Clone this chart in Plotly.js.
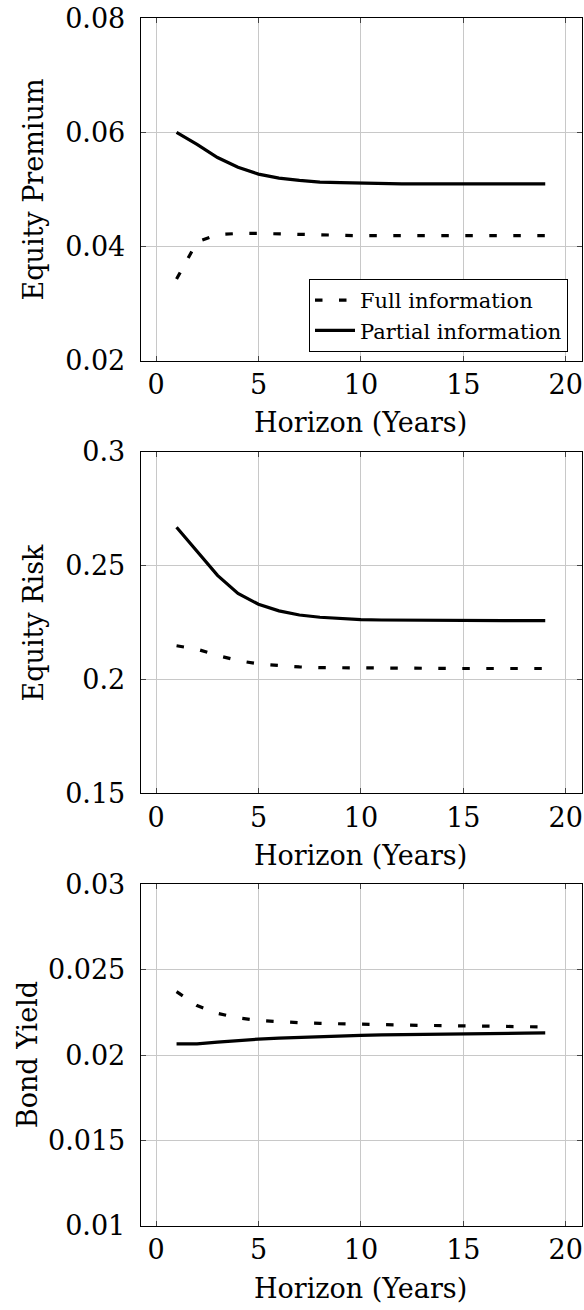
<!DOCTYPE html>
<html>
<head>
<meta charset="utf-8">
<script src="https://cdn.plot.ly/plotly-3.0.1.min.js"></script>
<style>html,body{margin:0;padding:0;background:#fff;}#chart{width:584px;height:1310px;}</style>
</head>
<body>
<div id="chart"></div>
<script>
const horizon = [1,2,3,4,5,6,7,8,9,10,11,12,13,14,15,16,17,18,19];

const premiumFull    = [0.0343,0.0408,0.0421,0.0423,0.0423,0.0422,0.0421,0.0420,0.0420,0.0419,0.0419,0.0419,0.0419,0.0419,0.0419,0.0419,0.0419,0.0419,0.0419];
const premiumPartial = [0.0600,0.0579,0.0556,0.0539,0.0527,0.0520,0.0516,0.0513,0.0512,0.0511,0.0511,0.0510,0.0510,0.0510,0.0510,0.0510,0.0510,0.0510,0.0510];

const riskFull    = [0.2148,0.2133,0.2105,0.2083,0.2068,0.2060,0.2055,0.2052,0.2051,0.2050,0.2049,0.2049,0.2048,0.2048,0.2048,0.2048,0.2048,0.2048,0.2048];
const riskPartial = [0.2668,0.2563,0.2457,0.2378,0.2330,0.2301,0.2283,0.2273,0.2267,0.2263,0.2261,0.2260,0.2259,0.2259,0.2258,0.2258,0.2258,0.2258,0.2258];

const yieldFull    = [0.02372,0.02290,0.02245,0.02218,0.02203,0.02195,0.02190,0.02186,0.02183,0.02180,0.02178,0.02176,0.02174,0.02173,0.02172,0.02170,0.02168,0.02166,0.02165];
const yieldPartial = [0.02066,0.02066,0.02076,0.02086,0.02094,0.02100,0.02105,0.02109,0.02113,0.02116,0.02119,0.02121,0.02123,0.02125,0.02126,0.02127,0.02128,0.02129,0.02130];

const xTickVals = [0,5,10,15,20];
const xTickText = ["0","5","10","15","20"];
const premiumTickVals = [0.02,0.04,0.06,0.08];
const premiumTickText = ["0.02","0.04","0.06","0.08"];
const riskTickVals = [0.15,0.2,0.25,0.3];
const riskTickText = ["0.15","0.2","0.25","0.3"];
const yieldTickVals = [0.01,0.015,0.02,0.025,0.03];
const yieldTickText = ["0.01","0.015","0.02","0.025","0.03"];

const seriesNames = ["Full information","Partial information"];
const yTitles = ["Equity Premium","Equity Risk","Bond Yield"];
const xTitle = "Horizon (Years)";

const FONT = "DejaVu Serif, Liberation Serif, Noto Serif, Tinos, Times, serif";
const FS = 27;
const W = 584, H = 1310;

const dashStyle = "7.5px,16.5px";
const lw = 3.2;

function mk(x, y, name, axisIdx, dashed, showlegend) {
  const sfx = axisIdx === 1 ? "" : String(axisIdx);
  return {
    x: x, y: y, name: name, type: "scatter", mode: "lines",
    xaxis: "x" + sfx, yaxis: "y" + sfx,
    line: {color: "#000", width: lw, dash: dashed ? dashStyle : "solid"},
    showlegend: showlegend, hoverinfo: "skip"
  };
}

const traces = [
  mk(horizon, premiumFull, seriesNames[0], 1, true, true),
  mk(horizon, premiumPartial, seriesNames[1], 1, false, true),
  mk(horizon, riskFull, seriesNames[0], 2, true, false),
  mk(horizon, riskPartial, seriesNames[1], 2, false, false),
  mk(horizon, yieldFull, seriesNames[0], 3, true, false),
  mk(horizon, yieldPartial, seriesNames[1], 3, false, false)
];

// pixel geometry
const xL = 140.7, xR = 581.7;
const panels = [[18.3, 360.7],[451.7, 793.3],[884.3, 1226]];
const px = v => v / W;
const py = v => 1 - v / H;

function xax(anchor) {
  return {
    domain: [px(xL), px(xR)], range: [-0.75, 20.78], anchor: anchor,
    tickmode: "array", tickvals: xTickVals, ticktext: xTickText,
    showgrid: true, gridcolor: "#c8c8c8", gridwidth: 1,
    zeroline: false, showline: true, linecolor: "#000", linewidth: 1, mirror: "ticks",
    ticks: "inside", ticklen: 5, tickcolor: "#444", tickwidth: 1,
    ticklabelstandoff: 0,
    tickfont: {family: FONT, size: FS, color: "#000"}, fixedrange: true
  };
}
function yax(anchor, i, range, tv, tt) {
  return {
    domain: [py(panels[i][1]), py(panels[i][0])], range: range, anchor: anchor,
    tickmode: "array", tickvals: tv, ticktext: tt,
    showgrid: true, gridcolor: "#c8c8c8", gridwidth: 1,
    zeroline: false, showline: true, linecolor: "#000", linewidth: 1, mirror: "ticks",
    ticks: "inside", ticklen: 5, tickcolor: "#444", tickwidth: 1,
    ticklabelstandoff: 9,
    tickfont: {family: FONT, size: FS, color: "#000"}, fixedrange: true
  };
}

const yTitleX = [33, 33, 27];
const annotations = [];
for (let i = 0; i < 3; i++) {
  annotations.push({
    xref: "paper", yref: "paper", x: px(yTitleX[i]), y: py((panels[i][0] + panels[i][1]) / 2),
    text: yTitles[i], showarrow: false, textangle: -90,
    xanchor: "center", yanchor: "middle",
    font: {family: FONT, size: FS, color: "#000"}
  });
  annotations.push({
    xref: "paper", yref: "paper", x: px((156 + 565.7) / 2), y: py(panels[i][1] + 62),
    text: xTitle, showarrow: false,
    xanchor: "center", yanchor: "middle",
    font: {family: FONT, size: FS, color: "#000"}
  });
}

const layout = {
  width: W, height: H,
  margin: {l: 0, r: 0, t: 0, b: 0},
  paper_bgcolor: "#fff", plot_bgcolor: "#fff",
  font: {family: FONT, color: "#000"},
  showlegend: true,
  legend: {
    x: px(568), y: py(279), xanchor: "right", yanchor: "top",
    xref: "paper", yref: "paper",
    bgcolor: "#fff", bordercolor: "#000", borderwidth: 1,
    font: {family: FONT, size: 21, color: "#000"},
    itemwidth: 40, tracegroupgap: 0
  },
  xaxis: xax("y"), yaxis: yax("x", 0, [0.02, 0.08], premiumTickVals, premiumTickText),
  xaxis2: xax("y2"), yaxis2: yax("x2", 1, [0.15, 0.3], riskTickVals, riskTickText),
  xaxis3: xax("y3"), yaxis3: yax("x3", 2, [0.01, 0.03], yieldTickVals, yieldTickText),
  annotations: annotations
};

Plotly.newPlot("chart", traces, layout, {staticPlot: true, displayModeBar: false});
</script>
</body>
</html>
